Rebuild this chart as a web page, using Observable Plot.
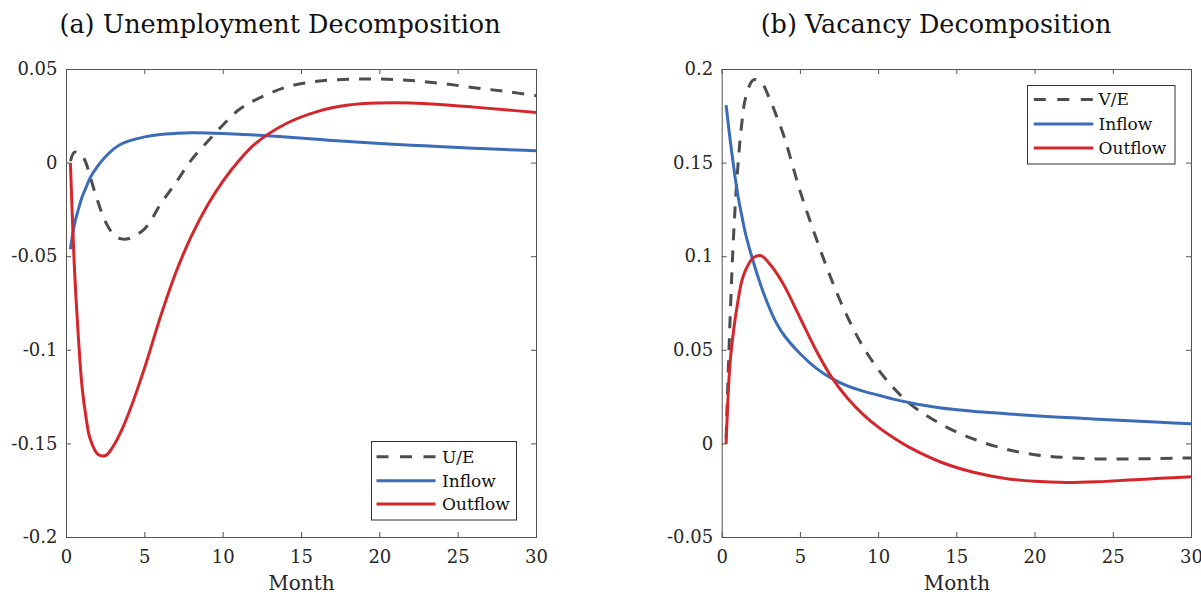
<!DOCTYPE html>
<html>
<head>
<meta charset="utf-8">
<script src="https://cdn.jsdelivr.net/npm/d3@7"></script>
<script src="https://cdn.jsdelivr.net/npm/@observablehq/plot@0.6"></script>
<style>
  html, body { margin: 0; padding: 0; background: #fff; }
  #wrap { position: relative; width: 1201px; height: 596px; overflow: hidden; font-family: "DejaVu Serif", serif; }
</style>
</head>
<body>
<div id="wrap"></div>
<script>
// ---- data ----
const months = [0.25, 0.5, 0.75, 1, 1.25, 1.5, 2, 2.5, 3, 3.5, 4, 5, 6, 7, 8, 9, 10, 11, 12, 14, 16, 18, 20, 22, 24, 26, 28, 30];

// (a) Unemployment decomposition
const uRatio   = [0.001, 0.0058, 0.0055, 0.004, 0.0, -0.007, -0.0205, -0.0315, -0.038, -0.0405, -0.0403, -0.035, -0.022, -0.0102, 0.002, 0.0115, 0.0205, 0.0285, 0.0335, 0.0405, 0.0437, 0.0448, 0.0449, 0.0441, 0.0425, 0.0403, 0.0383, 0.036];
const uInflow  = [-0.046, -0.033, -0.025, -0.018, -0.013, -0.008, -0.0015, 0.0035, 0.0075, 0.0102, 0.0119, 0.014, 0.0153, 0.0159, 0.0162, 0.0161, 0.0158, 0.0154, 0.015, 0.0139, 0.0127, 0.0115, 0.0105, 0.0096, 0.0087, 0.0079, 0.0072, 0.0066];
const uOutflow = [0, -0.055, -0.092, -0.12, -0.136, -0.147, -0.1555, -0.1562, -0.151, -0.143, -0.133, -0.109, -0.082, -0.058, -0.0385, -0.0225, -0.0095, 0.0012, 0.010, 0.021, 0.0275, 0.031, 0.0321, 0.0321, 0.0312, 0.0299, 0.0285, 0.027];

// (b) Vacancy decomposition
const vRatio   = [0.003, 0.066, 0.115, 0.148, 0.171, 0.185, 0.1945, 0.193, 0.185, 0.1745, 0.163, 0.1345, 0.110, 0.0875, 0.068, 0.052, 0.0395, 0.0295, 0.0214, 0.0105, 0.0028, -0.0025, -0.0058, -0.0073, -0.008, -0.008, -0.0078, -0.0075];
const vInflow  = [0.181, 0.163, 0.147, 0.133, 0.122, 0.112, 0.097, 0.084, 0.073, 0.064, 0.0575, 0.048, 0.0405, 0.035, 0.031, 0.0282, 0.026, 0.0238, 0.022, 0.0192, 0.0175, 0.0162, 0.015, 0.0141, 0.0132, 0.0124, 0.0115, 0.0107];
const vOutflow = [0, 0.043, 0.062, 0.076, 0.087, 0.093, 0.0995, 0.1005, 0.0965, 0.091, 0.084, 0.067, 0.050, 0.0355, 0.0245, 0.0158, 0.0088, 0.003, -0.002, -0.0098, -0.015, -0.0183, -0.02, -0.0206, -0.0202, -0.0193, -0.0184, -0.0175];

const xTicks = [0, 5, 10, 15, 20, 25, 30];
const uTicks = [-0.2, -0.15, -0.1, -0.05, 0, 0.05];
const vTicks = [-0.05, 0, 0.05, 0.1, 0.15, 0.2];

const titles = ["(a) Unemployment Decomposition", "(b) Vacancy Decomposition"];
const uLabels = ["U/E", "Inflow", "Outflow"];
const vLabels = ["V/E", "Inflow", "Outflow"];
const xLabel = "Month";

// ---- style ----
const COLORS = ["#4d4d4d", "#3a6cb7", "#d5262c"];
const DASH = "12,10";
const AXIS = "#555";
const TEXT = "#262626";
const H = 596, MT = 69, MB = 59;

function panel({series, yDomain, yTicks, width, marginLeft, marginRight}) {
  const pw = width - marginLeft - marginRight;
  const ph = H - MT - MB;
  const lines = series.map((vals, k) => Plot.line(vals, {
    x: (d, i) => months[i], y: d => d,
    stroke: COLORS[k], strokeWidth: 3,
    strokeDasharray: k === 0 ? DASH : null,
    strokeLinecap: "butt", strokeLinejoin: "round",
    curve: "catmull-rom"
  }));
  return Plot.plot({
    width, height: H, marginLeft, marginRight, marginTop: MT, marginBottom: MB,
    x: {domain: [0, 30]},
    y: {domain: yDomain},
    style: {fontFamily: "DejaVu Serif", fontSize: "18px", color: TEXT, background: "transparent", overflow: "visible"},
    marks: [
      ...lines,
      Plot.tickX(xTicks, {x: d => d, insetTop: ph - 5, stroke: AXIS, strokeWidth: 1}),
      Plot.tickX(xTicks, {x: d => d, insetBottom: ph - 5, stroke: AXIS, strokeWidth: 1}),
      Plot.tickY(yTicks, {y: d => d, insetRight: pw - 5, stroke: AXIS, strokeWidth: 1}),
      Plot.tickY(yTicks, {y: d => d, insetLeft: pw - 5, stroke: AXIS, strokeWidth: 1}),
      Plot.frame({stroke: AXIS, strokeWidth: 1}),
      Plot.axisX(xTicks, {tickSize: 0, tickPadding: 13, label: null, fontSize: 18, fill: TEXT, tickFormat: d => String(d)}),
      Plot.axisY(yTicks, {tickSize: 0, tickPadding: 9, label: null, fontSize: 18, fill: TEXT, tickFormat: d => String(d)}),
      Plot.text([xLabel], {frameAnchor: "bottom", dy: 52.5, fontSize: 20, fill: TEXT, text: d => d})
    ]
  });
}

const wrap = document.getElementById("wrap");

const left = panel({series: [uRatio, uInflow, uOutflow], yDomain: [-0.2, 0.05], yTicks: uTicks, width: 600, marginLeft: 66, marginRight: 64});
left.style.left = "0px"; left.style.position = "absolute"; left.style.top = "0px";
wrap.appendChild(left);

const right = panel({series: [vRatio, vInflow, vOutflow], yDomain: [-0.05, 0.2], yTicks: vTicks, width: 601, marginLeft: 121.7, marginRight: 10});
right.style.left = "600px"; right.style.position = "absolute"; right.style.top = "0px";
wrap.appendChild(right);

// ---- overlay: titles and legends ----
const ns = "http://www.w3.org/2000/svg";
const ov = document.createElementNS(ns, "svg");
ov.setAttribute("width", 1201); ov.setAttribute("height", 596);
ov.style.position = "absolute"; ov.style.left = "0px"; ov.style.top = "0px";
wrap.appendChild(ov);
const sel = d3.select(ov);

sel.selectAll("text.title").data([[280, titles[0]], [936, titles[1]]]).join("text")
  .attr("class", "title")
  .attr("x", d => d[0]).attr("y", 33)
  .attr("text-anchor", "middle")
  .attr("font-family", "DejaVu Serif").attr("font-size", 25.5).attr("fill", "#111")
  .text(d => d[1]);

function legend(x, y, w, h, rows, labels) {
  const g = sel.append("g").attr("transform", `translate(${x},${y})`);
  g.append("rect").attr("width", w).attr("height", h).attr("fill", "#fff").attr("stroke", "#333").attr("stroke-width", 1);
  labels.forEach((lab, k) => {
    g.append("line").attr("x1", rows.x1).attr("x2", rows.x2).attr("y1", rows.y[k]).attr("y2", rows.y[k])
      .attr("stroke", COLORS[k]).attr("stroke-width", 3)
      .attr("stroke-dasharray", k === 0 ? "12,11.5" : null);
    g.append("text").attr("x", rows.tx).attr("y", rows.y[k]).attr("dy", "0.35em")
      .attr("font-family", "DejaVu Serif").attr("font-size", 17).attr("fill", "#111").text(lab);
  });
}
legend(371.5, 441.5, 145, 78.5, {x1: 5, x2: 64, tx: 70.5, y: [15.3, 39.3, 62.5]}, uLabels);
legend(1027.5, 85.5, 147.5, 78.5, {x1: 6.3, x2: 65.8, tx: 71, y: [14, 38.5, 62.5]}, vLabels);
</script>
</body>
</html>
